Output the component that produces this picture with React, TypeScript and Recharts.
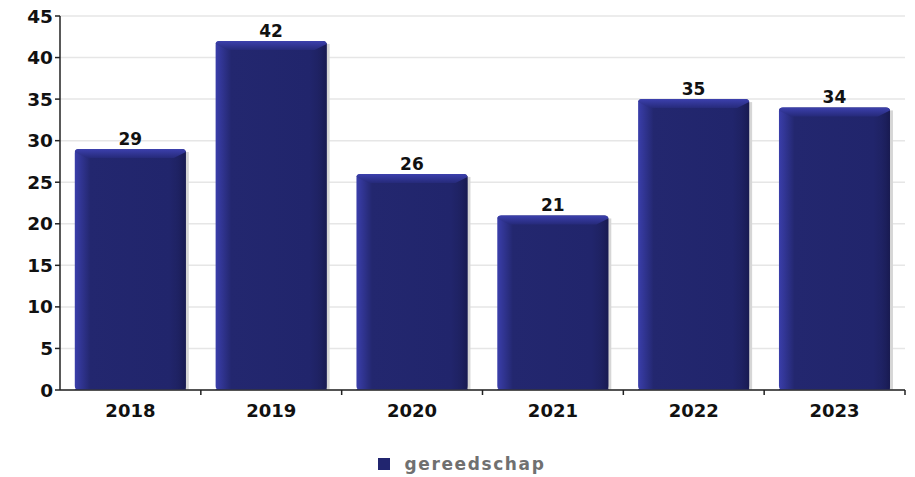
import { Bar, BarChart, CartesianGrid, LabelList, Legend, XAxis, YAxis } from "recharts";

const years = ["2018", "2019", "2020", "2021", "2022", "2023"];
const counts = [29, 42, 26, 21, 35, 34];
const yTicks = [0, 5, 10, 15, 20, 25, 30, 35, 40, 45];

const data = years.map((year, i) => ({ year, gereedschap: counts[i] }));

const NAVY = "#21256f";

function BevelBar(props: any) {
  const { x, y, width, height } = props;
  if (!height || height <= 0) return null;
  const bevel = 9;
  const side = 12;
  return (
    <g>
      <rect x={x + 3} y={y + 3} width={width} height={height - 3} fill="#d6d6d6" />
      <rect x={x} y={y} width={width} height={height} fill="url(#barBody)" rx={4} />
      <path
        d={`M${x + width - side},${y + bevel} L${x + width},${y + 2} L${x + width},${y + height} L${x + width - side},${y + height} Z`}
        fill="url(#barRight)"
      />
      <path
        d={`M${x + 4},${y} L${x + width - 4},${y} Q${x + width},${y} ${x + width},${y + 3} L${x + width - side},${y + bevel} L${x + side},${y + bevel} L${x},${y + 3} Q${x},${y} ${x + 4},${y} Z`}
        fill="url(#barTop)"
      />
      <line x1={x} y1={y + height - 0.5} x2={x + width} y2={y + height - 0.5} stroke="#5a5ec8" strokeWidth={1} />
    </g>
  );
}

function YearTick(props: any) {
  const { x, y, payload } = props;
  const half = payload?.offset ?? 70;
  return (
    <g>
      <line x1={x + half} y1={y - 8} x2={x + half} y2={y - 3} stroke="#222" strokeWidth={1.5} />
      <text x={x} y={y + 19} textAnchor="middle" fill="#111" fontSize={18} fontWeight="bold">
        {payload.value}
      </text>
    </g>
  );
}

function LegendBox() {
  return (
    <div style={{ display: "flex", justifyContent: "center", alignItems: "center", gap: 15, paddingTop: 20, paddingLeft: 18 }}>
      <span style={{ width: 12, height: 12, background: NAVY, display: "inline-block" }} />
      <span style={{ color: "#707070", fontSize: 17, fontWeight: "bold", letterSpacing: 1.6 }}>gereedschap</span>
    </div>
  );
}

export default function App() {
  return (
    <div style={{ position: "absolute", left: 0, top: 0, fontFamily: "DejaVu Sans" }}>
      <BarChart
        width={915}
        height={477}
        data={data}
        margin={{ top: 16, right: 10, bottom: 0, left: 0 }}
        barCategoryGap="10.5%"
      >
        <defs>
          <linearGradient id="barBody" x1="0" y1="0" x2="1" y2="0">
            <stop offset="0%" stopColor="#3a3eaa" />
            <stop offset="14%" stopColor="#23276f" />
            <stop offset="85%" stopColor="#21256c" />
            <stop offset="100%" stopColor="#1c1f5a" />
          </linearGradient>
          <linearGradient id="barRight" x1="0" y1="0" x2="1" y2="0">
            <stop offset="0%" stopColor="#21256c" stopOpacity={0} />
            <stop offset="100%" stopColor="#181a50" />
          </linearGradient>
          <linearGradient id="barTop" x1="0" y1="0" x2="0" y2="1">
            <stop offset="0%" stopColor="#3c40ad" />
            <stop offset="100%" stopColor="#262a7a" />
          </linearGradient>
        </defs>
        <CartesianGrid vertical={false} stroke="#e6e6e6" strokeWidth={1.5} />
        <XAxis
          dataKey="year"
          tick={<YearTick />}
          tickLine={false}
          axisLine={{ stroke: "#222", strokeWidth: 1.5 }}
          height={44}
          interval={0}
        />
        <YAxis
          domain={[0, 45]}
          ticks={yTicks}
          width={60}
          tickSize={5}
          tickLine={{ stroke: "#222", strokeWidth: 1.5 }}
          axisLine={{ stroke: "#222", strokeWidth: 1.5 }}
          tick={{ fill: "#111", fontSize: 18.5, fontWeight: "bold" }}
          interval={0}
        />
        <Legend verticalAlign="bottom" height={43} content={<LegendBox />} />
        <Bar dataKey="gereedschap" fill={NAVY} shape={<BevelBar />} isAnimationActive={false}>
          <LabelList dataKey="gereedschap" position="top" offset={4} fill="#111" fontSize={17} fontWeight="bold" />
        </Bar>
      </BarChart>
    </div>
  );
}
